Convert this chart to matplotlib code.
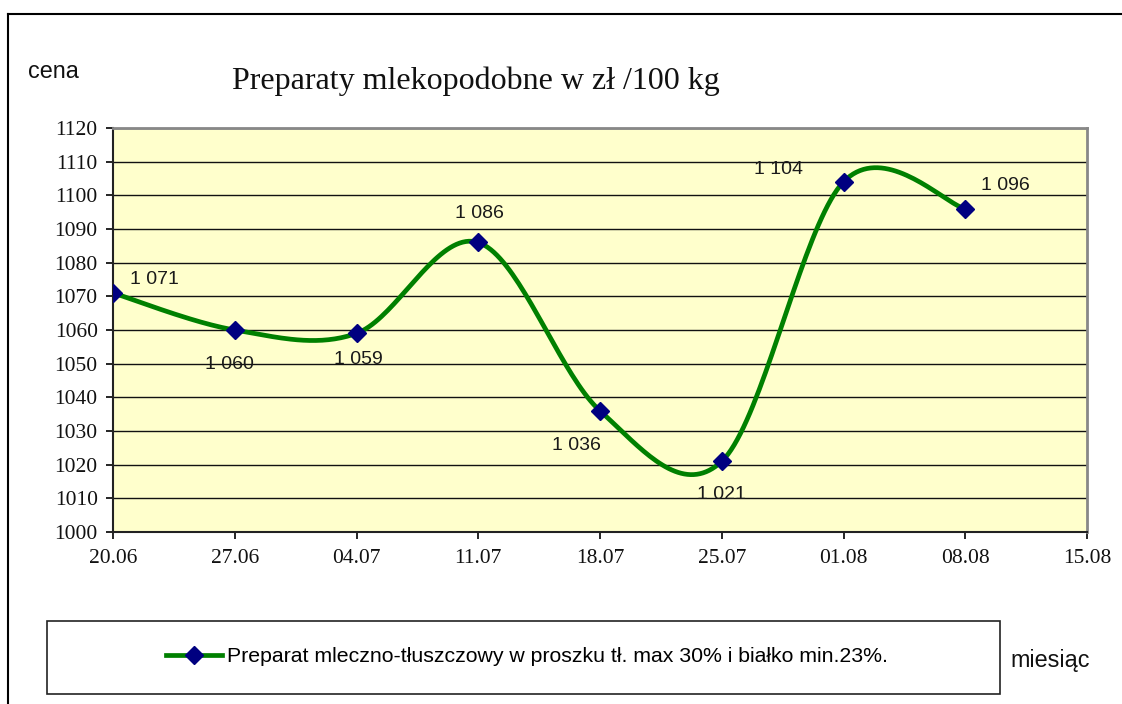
import numpy as np
import matplotlib
matplotlib.use("Agg")
import matplotlib.pyplot as plt
from matplotlib.lines import Line2D
from matplotlib.patches import Rectangle

# ---- data ----
dates = ["20.06", "27.06", "04.07", "11.07", "18.07", "25.07", "01.08", "08.08"]
tick_labels = ["20.06", "27.06", "04.07", "11.07", "18.07", "25.07", "01.08", "08.08", "15.08"]
prices = [1071, 1060, 1059, 1086, 1036, 1021, 1104, 1096]
series_name = "Preparat mleczno-tłuszczowy w proszku tł. max 30% i białko min.23%."
title = "Preparaty mlekopodobne w zł /100 kg"
# label offsets in points (dx, dy)
label_offsets = [(30, 10), (-4, -25), (1, -19), (1, 21), (-17, -25), (0, -24), (-47, 9), (29, 17)]

SANS = ["Liberation Sans", "DejaVu Sans"]
SERIF = ["Liberation Serif", "DejaVu Serif"]

days = np.arange(len(prices)) * 7.0
tick_pos = np.arange(len(tick_labels)) * 7.0


def smooth(x, y, n=40):
    """Excel-like smoothed line: cubic Bezier with Catmull-Rom control points."""
    x = np.asarray(x, float)
    y = np.asarray(y, float)
    P = np.column_stack([x, y])
    out = [P[0]]
    m = len(P)
    for i in range(m - 1):
        p0 = P[i - 1] if i > 0 else P[i]
        p1 = P[i]
        p2 = P[i + 1]
        p3 = P[i + 2] if i + 2 < m else P[i + 1]
        c1 = p1 + (p2 - p0) / 6.0
        c2 = p2 - (p3 - p1) / 6.0
        t = np.linspace(0, 1, n)[1:, None]
        pts = ((1 - t) ** 3) * p1 + 3 * ((1 - t) ** 2) * t * c1 + 3 * (1 - t) * t ** 2 * c2 + t ** 3 * p2
        out.extend(pts)
    out = np.array(out)
    return out[:, 0], out[:, 1]


fig = plt.figure(figsize=(11.22, 7.04), dpi=100)
fig.patch.set_facecolor("white")

ax = fig.add_axes([113 / 1122, 1 - 532 / 704, (1087 - 113) / 1122, (532 - 128) / 704])
ax.set_facecolor("#FFFFCC")

sx, sy = smooth(days, prices)
ax.plot(sx, sy, color="#008000", lw=3.4, solid_capstyle="round", zorder=3)
ax.plot(days, prices, linestyle="none", marker="D", markersize=9,
        markerfacecolor="#000080", markeredgecolor="#000080", zorder=4)

for d, v, (dx, dy) in zip(days, prices, label_offsets):
    ax.annotate(f"{v:,}".replace(",", " "), (d, v), xytext=(dx, dy), textcoords="offset points",
                ha="center", va="center", fontsize=14, family=SANS, color="#1a1a1a", zorder=5)

ax.set_xlim(tick_pos[0], tick_pos[-1])
ax.set_ylim(1000, 1120)
ax.set_yticks(np.arange(1000, 1121, 10))
ax.set_xticks(tick_pos)
ax.set_xticklabels(tick_labels)
ax.yaxis.grid(True, color="#111111", lw=1.0)
ax.set_axisbelow(True)

for lab in ax.get_xticklabels() + ax.get_yticklabels():
    lab.set_family(SERIF)
    lab.set_fontsize(15.5)
    lab.set_color("#111111")
ax.tick_params(axis="y", length=5, width=1.2, pad=6, direction="out")
ax.tick_params(axis="x", length=5, width=1.2, pad=7, direction="out")

ax.spines["left"].set_color("#222222")
ax.spines["left"].set_linewidth(1.5)
ax.spines["bottom"].set_color("#222222")
ax.spines["bottom"].set_linewidth(1.5)
ax.spines["top"].set_color("#888888")
ax.spines["top"].set_linewidth(2)
ax.spines["right"].set_color("#888888")
ax.spines["right"].set_linewidth(2)

# titles / axis labels
fig.text(232 / 1122, 1 - 81 / 704, title, family=SERIF, fontsize=23, ha="left", va="center", color="#111111")
fig.text(28 / 1122, 1 - 72 / 704, "cena", family=SANS, fontsize=16.8, ha="left", va="center", color="#111111")
fig.text(1010 / 1122, 1 - 660 / 704, "miesiąc", family=SANS, fontsize=16.8, ha="left", va="center", color="#111111")

# outer frame (top and left)
fig.add_artist(Line2D([8 / 1122, 1.0], [1 - 14 / 704, 1 - 14 / 704], transform=fig.transFigure, color="black", lw=1.5))
fig.add_artist(Line2D([8 / 1122, 8 / 1122], [0, 1 - 14 / 704], transform=fig.transFigure, color="black", lw=1.5))

# legend box
fig.add_artist(Rectangle((47 / 1122, 1 - 694 / 704), (1000 - 47) / 1122, (694 - 621) / 704,
                         transform=fig.transFigure, fill=False, edgecolor="#222222", lw=1.2))
handle = Line2D([], [], color="#008000", lw=3.4, marker="D", markersize=9,
                markerfacecolor="#000080", markeredgecolor="#000080")
leg = fig.legend([handle], [series_name], loc="center",
                 bbox_to_anchor=(527 / 1122, 1 - 657 / 704), frameon=False,
                 prop={"family": SANS, "size": 15.3}, handlelength=2.6, handletextpad=0.25)

fig.savefig("out.png", dpi=100, facecolor="white")
